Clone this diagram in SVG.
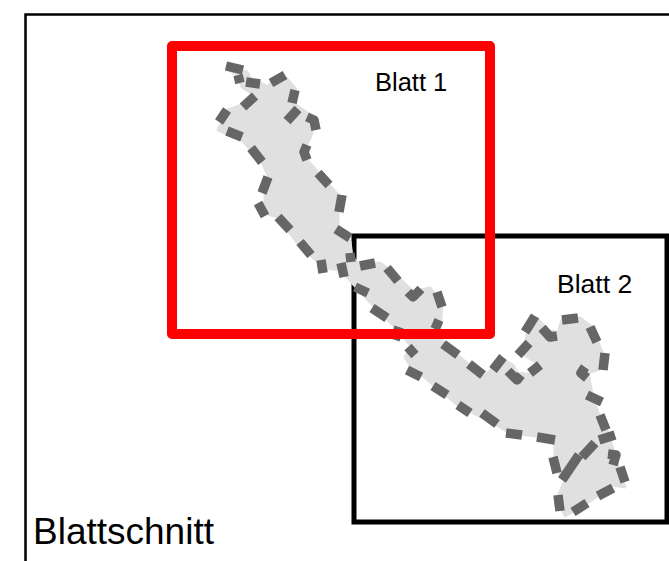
<svg xmlns="http://www.w3.org/2000/svg" width="669" height="561" viewBox="0 0 669 561">
<style>
.t{font-family:"Liberation Sans",Arial,sans-serif;fill:#000}
.d{fill:none;stroke:#666;stroke-width:9.500;stroke-linejoin:round}
</style>
<rect width="669" height="561" fill="#fff"/>
<path d="M25.5 561V14.5H669" fill="none" stroke="#000" stroke-width="2.5"/>
<rect x="354" y="236" width="313" height="286" fill="none" stroke="#000" stroke-width="5"/>
<path fill="#e0e0e0" stroke="#e0e0e0" stroke-width="3" stroke-linejoin="round" d="M227 68L240 70L247 72L250 78L268 87L275 78L286 78L295 88L296 105L310 115L312 133L306 147L307 160L338 195L338 227L350 242L352 257L360 265L380 263L398 277L413 292L430 288L442 303L440 330L443 343L483 377L493 368L500 358L503 360L513 365L517 373L532 375L540 365L525 355L527 333L537 318L547 330L558 333L562 320L580 318L593 328L602 353L602 368L588 373L592 395L598 413L608 433L618 467L625 487L613 485L587 503L565 516L558 497L565 480L555 467L555 438L510 433L497 425L458 405L410 365L405 357L412 347L395 327L368 300L347 277L340 270L327 268L303 250L278 217L265 213L265 193L268 175L262 162L242 140L218 130L228 110L242 105L255 95L242 87L237 75Z"/>
<path class="d" d="M226 66L243 70M238 75L240 83M246 82L260 84M271 83L285 75M295 90L292 103M298 109L287 121M307 117L314 120L316 130M307 145L304 152L307 160M318 173L329 185M342 195L339 212M336 229L350 238M350 253L351 262M341 263L344 277M321 260L323 273M300 242L311 255M278 217L290 230M258 203L265 216M268 177L262 193M251 148L262 162M227 131L242 137M227 110L219 122M255 96L243 107"/>
<path class="d" d="M360 266L375 263M387 268L398 281M408 292L413 297L421 289M437 292L442 307M439 320L435 329M443 344L458 355M469 364L483 375M355 287L368 293M372 308L387 318M399 327L395 340M408 347L415 355M407 370L421 377M433 386L447 395M458 405L470 413M482 413L497 424"/>
<path class="d" d="M506 433L522 435M537 437L555 440M553 457L557 473M595 443L582 457M579 455L562 480M615 435L599 440M608 454L616 455L613 465M620 467L625 482M613 488L598 496M587 503L573 512M560 511L558 495M606 430L600 415M587 395L602 402M585 367L581 373L587 378M605 353L603 370M590 327L597 342M562 320L578 318M542 328L550 337L557 336M535 316L525 332M529 343L518 355M540 365L530 373M508 371L517 380L521 375M503 357L493 370"/>
<rect x="172" y="46" width="318" height="288" fill="none" stroke="#f00" stroke-width="10" stroke-linejoin="round"/>
<text class="t" x="375" y="91" font-size="25.500">Blatt 1</text>
<text class="t" x="557" y="293" font-size="26.500">Blatt 2</text>
<text class="t" x="33" y="544" font-size="37">Blattschnitt</text>
</svg>
